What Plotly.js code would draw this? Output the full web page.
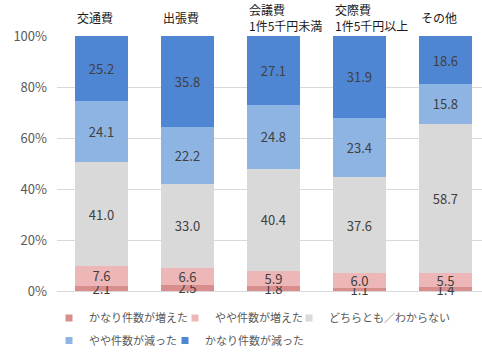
<!DOCTYPE html>
<html><head><meta charset="utf-8">
<script src="https://cdn.plot.ly/plotly-3.0.1.min.js"></script>
<style>html,body{margin:0;padding:0;background:#fff;}#chart{width:482px;height:355px;}</style>
</head><body><div id="chart"></div>
<script>
const categories = ['交通費', '出張費', '会議費<br>1件5千円未満', '交際費<br>1件5千円以上', 'その他'];
const seriesNames = ['かなり件数が増えた', 'やや件数が増えた', 'どちらとも／わからない', 'やや件数が減った', 'かなり件数が減った'];
const muchMore = [2.1, 2.5, 1.8, 1.1, 1.4];
const slightlyMore = [7.6, 6.6, 5.9, 6.0, 5.5];
const neither = [41.0, 33.0, 40.4, 37.6, 58.7];
const slightlyLess = [24.1, 22.2, 24.8, 23.4, 15.8];
const muchLess = [25.2, 35.8, 27.1, 31.9, 18.6];
const yTickVals = [0, 20, 40, 60, 80, 100];
const yTickText = ['0%', '20%', '40%', '60%', '80%', '100%'];
const colors = ['#D98E8E', '#EDB7B7', '#D9D9D9', '#8DB4E3', '#4F86D3'];
const series = [muchMore, slightlyMore, neither, slightlyLess, muchLess];

const font = "'Noto Sans CJK JP', 'Noto Sans', sans-serif";
const legendIds = ['legend', 'legend2', 'legend3', 'legend4', 'legend5'];

const barTraces = series.map((vals, i) => ({
  type: 'bar',
  name: seriesNames[i],
  x: categories.map((c, k) => k),
  y: vals,
  marker: {color: colors[i], line: {width: 0}},
  text: vals.map(v => v.toFixed(1)),
  textposition: 'inside',
  insidetextanchor: 'middle',
  constraintext: 'none',
  textangle: 0,
  textfont: {family: font, size: 13, color: '#404040'},
  cliponaxis: false,
  showlegend: false,
  hoverinfo: 'none'
}));
// legend-only entries (small square keys like the reference)
const keyTraces = seriesNames.map((n, i) => ({
  type: 'scatter', mode: 'markers', name: n,
  x: [null], y: [null],
  marker: {symbol: 'square', size: 7, color: colors[i]},
  legend: legendIds[i], showlegend: true, hoverinfo: 'none'
}));

const annotations = categories.map((c, k) => ({
  x: k, xref: 'x', xshift: -26.5, xanchor: 'left',
  y: (292 - 17) / 256, yref: 'paper', yanchor: 'middle',
  text: c, showarrow: false, align: 'left',
  font: {family: font, size: 12, color: '#1a1a1a'}
}));

// legend text start positions (px) and row centres (px)
const legPos = [[89, 318], [215, 318], [329, 318], [89, 342], [205, 342]];
const legendFont = {family: font, size: 11, color: '#595959'};

const layout = {
  width: 482, height: 355,
  margin: {l: 57, r: 0, t: 36, b: 63},
  paper_bgcolor: '#fff', plot_bgcolor: '#fff',
  barmode: 'stack',
  bargap: 0.384,
  font: {family: font, color: '#595959'},
  xaxis: {
    range: [-0.517, 4.425],
    showticklabels: false, showgrid: false, zeroline: false, ticks: '',
    fixedrange: true
  },
  yaxis: {
    range: [0, 100.15], tickmode: 'array', tickvals: yTickVals, ticktext: yTickText,
    showgrid: true, gridcolor: '#D9D9D9', gridwidth: 1,
    zeroline: true, zerolinecolor: '#D9D9D9', zerolinewidth: 1,
    ticks: '', ticklabelstandoff: 9,
    tickfont: {family: font, size: 13, color: '#595959'},
    fixedrange: true
  },
  annotations: annotations
};
legendIds.forEach((id, i) => {
  layout[id] = {
    orientation: 'h',
    x: (legPos[i][0] - 40 - 57) / 425, xanchor: 'left',
    y: (292 - legPos[i][1]) / 256, yanchor: 'middle',
    font: legendFont, bgcolor: 'rgba(0,0,0,0)'
  };
});
Plotly.newPlot('chart', barTraces.concat(keyTraces), layout, {displayModeBar: false, staticPlot: true});
</script></body></html>
